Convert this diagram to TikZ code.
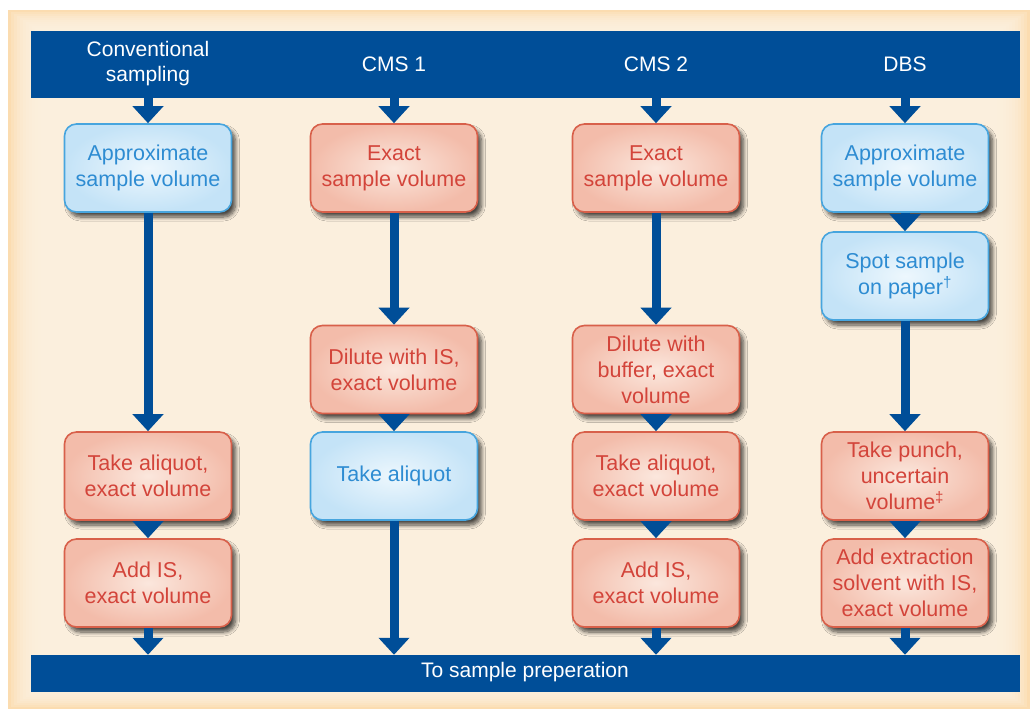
\documentclass[tikz,border=0pt]{standalone}
\usepackage{fontspec}
\setmainfont{Liberation Sans}
\usetikzlibrary{arrows.meta,shadows,shadows.blur}
\definecolor{navy}{HTML}{004E98}
\definecolor{bglight}{HTML}{FEF3E3}
\definecolor{bgedge}{HTML}{FBD6A2}
\definecolor{redline}{HTML}{D8604A}
\definecolor{redtext}{HTML}{D3443A}
\definecolor{redin}{HTML}{FBE7DD}
\definecolor{redout}{HTML}{F3BCAA}
\definecolor{blueline}{HTML}{47A5DE}
\definecolor{bluetext}{HTML}{2E8CD2}
\definecolor{bluein}{HTML}{EDF7FD}
\definecolor{blueout}{HTML}{C4E3F7}
\begin{document}
\begin{tikzpicture}[x=1pt,y=-1pt,
  box/.style={rounded corners=12pt, minimum width=167pt, minimum height=88pt,
    align=center, font=\fontsize{21.5}{26}\selectfont, line width=1.6pt, inner sep=1pt,
    blur shadow={shadow xshift=4pt,shadow yshift=-5pt,shadow blur steps=8,shadow blur radius=4pt,shadow opacity=70}},
  redbox/.style={box, draw=redline, text=redtext, inner color=redin, outer color=redout},
  bluebox/.style={box, draw=blueline, text=bluetext, inner color=bluein, outer color=blueout},
  bar/.style={fill=navy, inner sep=0pt},
  head/.style={text=white, align=center, font=\fontsize{21}{25}\selectfont},
  arr/.style={-{Triangle[width=30pt,length=17pt]}, line width=9pt, draw=navy}]
\useasboundingbox (0,0) rectangle (1030,709);
\fill[white] (0,0) rectangle (1030,709);
% background
\fill[bgedge] (8,10) rectangle (1030,709);
\foreach \k in {0,...,11}
  \fill[bglight, fill opacity=.22] ({8+3*\k},{10+2*\k}) rectangle ({1030-3*\k},{709-2*\k});
% bars
\node[bar, minimum width=989pt, minimum height=67pt] (topbar) at (525.5,64.5) {};
\node[bar, minimum width=989pt, minimum height=37pt] (botbar) at (525.5,673.5) {};
\node[head] (h1) at (148,64) {Conventional\\sampling};
\node[head] (h2) at (394,64) {CMS 1};
\node[head] (h3) at (656,64) {CMS 2};
\node[head] (h4) at (905,64) {DBS};
\node[head] (hb) at (525,672) {To sample preperation};
% column 1
\node[bluebox] (a1) at (148,168) {Approximate\\sample volume};
\node[redbox] (a2) at (148,476) {Take aliquot,\\exact volume};
\node[redbox] (a3) at (148,583) {Add IS,\\exact volume};
% column 2
\node[redbox] (b1) at (394,168) {Exact\\sample volume};
\node[redbox] (b2) at (394,369.5) {Dilute with IS,\\exact volume};
\node[bluebox] (b3) at (394,476) {Take aliquot};
% column 3
\node[redbox] (c1) at (656,168) {Exact\\sample volume};
\node[redbox] (c2) at (656,369.5) {Dilute with\\buffer, exact\\volume};
\node[redbox] (c3) at (656,476) {Take aliquot,\\exact volume};
\node[redbox] (c4) at (656,583) {Add IS,\\exact volume};
% column 4
\node[bluebox] (d1) at (905,168) {Approximate\\sample volume};
\node[bluebox] (d2) at (905,276) {Spot sample\\on paper\textsuperscript{†}};
\node[redbox] (d3) at (905,476) {Take punch,\\uncertain\\volume\textsuperscript{‡}};
\node[redbox] (d4) at (905,583) {Add extraction\\solvent with IS,\\exact volume};
% arrows
\foreach \n in {a1,b1,c1,d1}
  \draw[arr] (topbar.south -| \n.north) -- (\n.north);
\draw[arr] (a1) -- (a2);
\draw[arr] (a2) -- (a3);
\draw[arr] (b1) -- (b2);
\draw[arr] (b2) -- (b3);
\draw[arr] (c1) -- (c2);
\draw[arr] (c2) -- (c3);
\draw[arr] (c3) -- (c4);
\draw[arr] (d1) -- (d2);
\draw[arr] (d2) -- (d3);
\draw[arr] (d3) -- (d4);
\foreach \n in {a3,b3,c4,d4}
  \draw[arr] (\n.south) -- (\n.south |- botbar.north);
\end{tikzpicture}
\end{document}
